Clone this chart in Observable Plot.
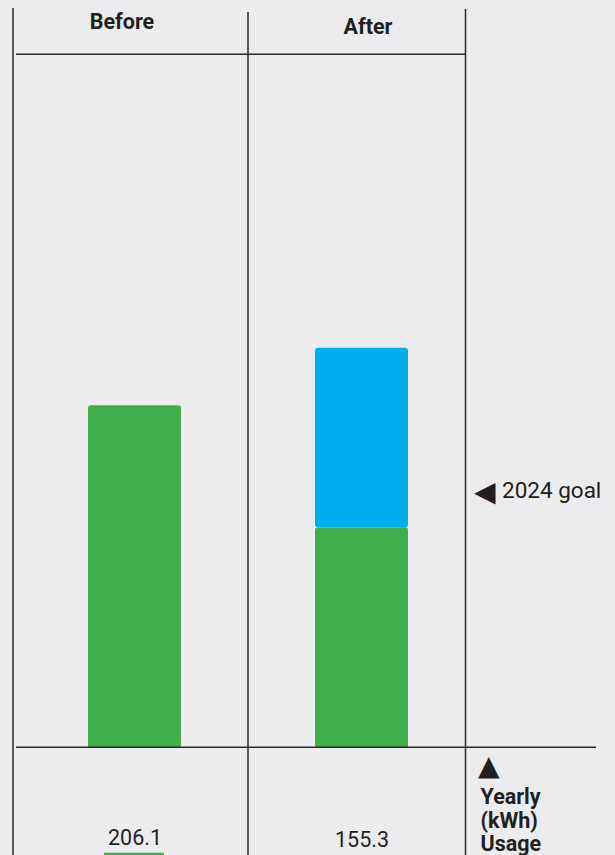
<!DOCTYPE html>
<html>
<head>
<meta charset="utf-8">
<script src="https://cdn.jsdelivr.net/npm/d3@7"></script>
<script src="https://cdn.jsdelivr.net/npm/@observablehq/plot@0.6"></script>
<style>
  html, body { margin: 0; padding: 0; background: #ececee; }
  #chart { width: 615px; height: 855px; overflow: hidden; }
</style>
</head>
<body>
<div id="chart"></div>
<script>
// ---- data ----
const categories = ["Before", "After"];
const greenValues = [206.1, 132.6];
const blueValues = [0, 108.2];
const valueLabels = ["206.1", "155.3"];
const goalValue = 154.6;
const goalArrow = "◀";
const goalLabel = "2024 goal";
const unitArrow = "▲";
const unitLabel = ["Yearly", "(kWh)", "Usage"];

const GREEN = "#40ae4a";
const BLUE = "#00aeef";
const INK = "#231f20";

const greenRows = categories.map((c, i) => ({cat: c, y1: 0, y2: greenValues[i]}));
const blueRows = categories
  .map((c, i) => ({cat: c, y1: greenValues[i], y2: greenValues[i] + blueValues[i]}))
  .filter(d => d.y2 > d.y1);

// table rules (decoration)
function tableLines() {
  const g = d3.create("svg:g").attr("fill", "none");
  const rules = [
    [13, 8, 13, 855],
    [248, 12, 248, 855],
    [465.5, 9, 465.5, 855],
    [16, 54.3, 465.5, 54.3],
    [16, 747.3, 596, 747.3]
  ];
  for (const [x1, y1, x2, y2] of rules) {
    g.append("line").attr("x1", x1).attr("y1", y1).attr("x2", x2).attr("y2", y2)
      .attr("stroke", "#2a2a2a").attr("stroke-width", 1.5);
  }
  g.append("line").attr("x1", 104).attr("x2", 164).attr("y1", 854.2).attr("y2", 854.2)
    .attr("stroke", GREEN).attr("stroke-width", 3);
  return g.node();
}

const headerOffsets = [{dx: -13, dy: 28.3}, {dx: 6, dy: 33}];
const valueOffsets = [{dy: 97}, {dy: 99.4}];

const chart = Plot.plot({
  width: 615,
  height: 855,
  marginTop: 0,
  marginBottom: 107.7,
  marginLeft: 0,
  marginRight: 0,
  style: {background: "transparent", fontFamily: "Roboto, 'DejaVu Sans', sans-serif", color: INK},
  x: {type: "band", domain: categories, range: [87.6, 408.6], paddingInner: 0.59, paddingOuter: 0, align: 0.5, axis: null},
  y: {domain: [0, 450.3], axis: null},
  marks: [
    Plot.rectY(blueRows, {x: "cat", y1: "y1", y2: "y2", fill: BLUE, rx: 3}),
    Plot.rectY(greenRows, {x: "cat", y1: "y1", y2: "y2", fill: GREEN, rx: 3, insetBottom: -5, clip: true}),
    tableLines,
    ...categories.map((c, i) => Plot.text([c], {
      x: d => d, frameAnchor: "top", lineAnchor: "bottom",
      dx: headerOffsets[i].dx, dy: headerOffsets[i].dy,
      fontSize: 21.5, fontWeight: "bold", fill: INK
    })),
    ...categories.map((c, i) => Plot.text([valueLabels[i]], {
      x: () => c, frameAnchor: "bottom", lineAnchor: "bottom",
      dy: valueOffsets[i].dy, fontSize: 21.5, fill: INK
    })),
    Plot.text([goalArrow], {
      y: () => goalValue, frameAnchor: "left", textAnchor: "start",
      dx: 473.5, dy: 0.5, fontSize: 28, fill: INK, fontFamily: "DejaVu Sans"
    }),
    Plot.text([goalLabel], {
      y: () => goalValue, frameAnchor: "left", textAnchor: "start",
      dx: 501.5, fontSize: 22.5, fill: INK
    }),
    Plot.text([unitArrow], {
      frameAnchor: "bottom-left", textAnchor: "start", lineAnchor: "bottom",
      dx: 477.5, dy: 27.5, fontSize: 28, fill: INK, fontFamily: "DejaVu Sans"
    }),
    Plot.text([unitLabel.join("\n")], {
      frameAnchor: "bottom-left", textAnchor: "start", lineAnchor: "bottom",
      dx: 480, dy: 103, lineHeight: 1.08, fontSize: 21.5, fontWeight: "bold", fill: INK
    })
  ]
});

document.getElementById("chart").append(chart);
</script>
</body>
</html>
